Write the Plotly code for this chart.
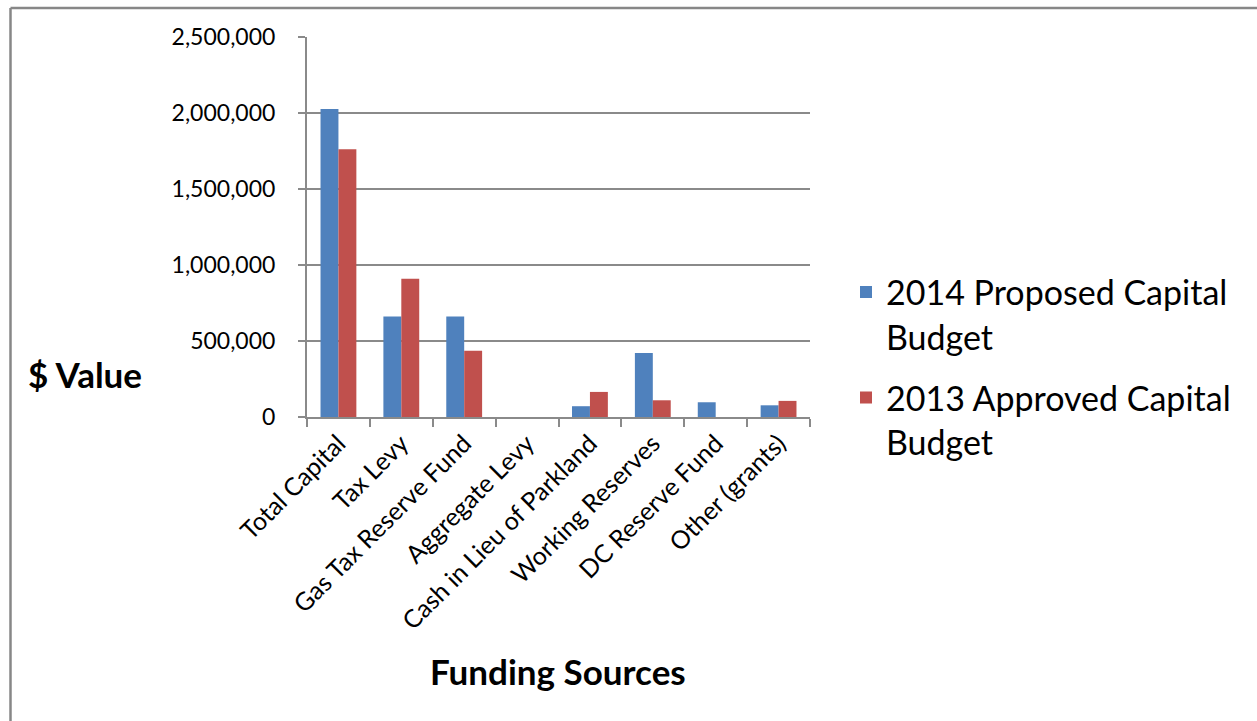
import plotly.graph_objects as go

categories = ["Total Capital", "Tax Levy", "Gas Tax Reserve Fund", "Aggregate Levy",
              "Cash in Lieu of Parkland", "Working Reserves", "DC Reserve Fund", "Other (grants)"]
proposed_2014 = [2026000, 662000, 662000, 0, 71000, 421000, 97000, 77000]
approved_2013 = [1762000, 910000, 436000, 0, 165000, 110000, 0, 106000]
series_names = ["2014 Proposed Capital<br>Budget", "2013 Approved Capital<br>Budget"]
y_ticks = [0, 500000, 1000000, 1500000, 2000000, 2500000]

FONT = "Lato"
GRID = "#8a8a8a"

fig = go.Figure()
fig.add_trace(go.Bar(x=categories, y=proposed_2014, name=series_names[0], legendgroup="g2014",
                     marker=dict(color="#4F81BD", line=dict(width=0))))
fig.add_trace(go.Bar(x=categories, y=approved_2013, name=series_names[1], legendgroup="g2013",
                     marker=dict(color="#C0504D", line=dict(width=0))))

W, H = 1257, 721
L, R, T, B = 307, 810, 37, 417

fig.update_layout(
    width=W, height=H,
    margin=dict(l=L, r=W - R, t=T, b=H - B, autoexpand=False),
    paper_bgcolor="white", plot_bgcolor="white",
    barmode="group", bargap=0.43, bargroupgap=0,
    font=dict(family=FONT, color="black"),
    showlegend=True,
    legend=dict(x=(846 - L) / (R - L), xanchor="left", y=(B - 367) / (B - T), yanchor="middle",
                font=dict(size=34, family=FONT, color="black"), tracegroupgap=14,
                valign="top", itemwidth=30, bgcolor="rgba(0,0,0,0)"),
)
fig.update_xaxes(
    type="category", showline=True, linecolor=GRID, linewidth=2,
    ticks="outside", tickson="boundaries", ticklen=8, tickcolor=GRID, tickwidth=2,
    tickangle=-45, tickfont=dict(size=25, family=FONT, color="black"),
    showgrid=False, automargin=False,
)
fig.update_yaxes(
    range=[0, 2500000], tickvals=y_ticks, tickformat=",d",
    showline=True, linecolor=GRID, linewidth=2,
    ticks="outside", ticklen=7, tickcolor=GRID, tickwidth=2,
    ticklabelstandoff=18,
    showgrid=True, gridcolor=GRID, gridwidth=2, zeroline=False,
    tickfont=dict(size=23, family=FONT, color="black"), automargin=False,
)

# axis titles
fig.add_annotation(text="<b>$ Value</b>", xref="paper", yref="paper",
                   x=(85 - L) / (R - L), y=(B - 374) / (B - T), xanchor="center", yanchor="middle",
                   showarrow=False, font=dict(size=35, family=FONT, color="black"))
fig.add_annotation(text="<b>Funding Sources</b>", xref="paper", yref="paper",
                   x=(558 - L) / (R - L), y=(B - 671) / (B - T), xanchor="center", yanchor="middle",
                   showarrow=False, font=dict(size=35, family=FONT, color="black"))

# chart area border (top and left visible)
bx = (10.5 - L) / (R - L)
by = 1 + (T - 8) / (B - T)
fig.add_shape(type="line", xref="paper", yref="paper", x0=bx, y0=by, x1=(W + 5 - L) / (R - L), y1=by,
              line=dict(color="#878787", width=2.5))
fig.add_shape(type="line", xref="paper", yref="paper", x0=bx, y0=by, x1=bx, y1=(B - H - 5) / (B - T),
              line=dict(color="#878787", width=2.5))

fig.write_html("out.html")
